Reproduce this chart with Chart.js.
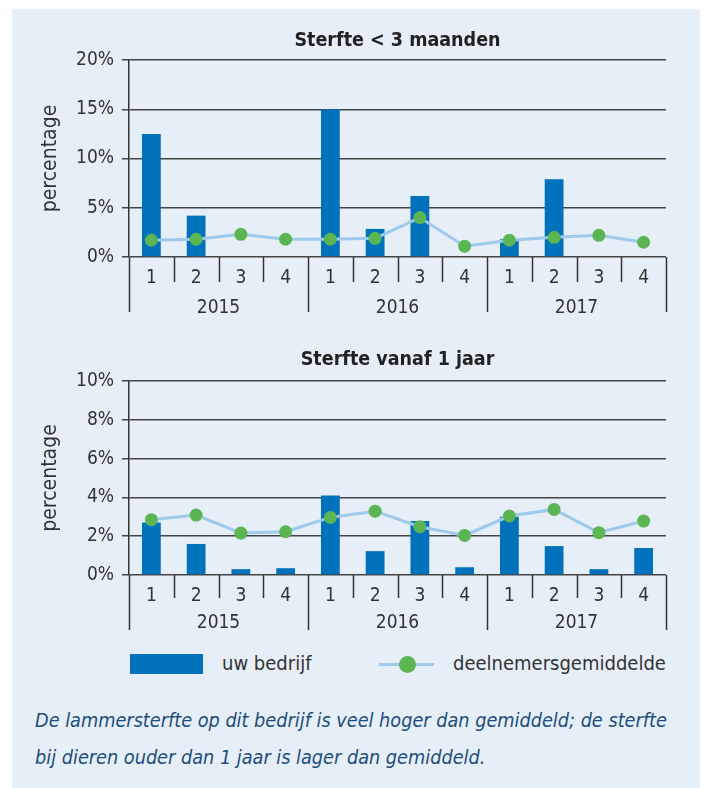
<!DOCTYPE html>
<html>
<head>
<meta charset="utf-8">
<script src="https://cdn.jsdelivr.net/npm/chart.js@4/dist/chart.umd.min.js"></script>
<style>
    body {
        margin: 0;
        width: 710px;
        height: 788px;
        position: relative;
        overflow: hidden;
        background: #fff;
        font-family: "DejaVu Sans Condensed", "Liberation Sans Narrow", sans-serif;
    }
    #panel {
        position: absolute;
        left: 12px;
        top: 9px;
        width: 688px;
        height: 779px;
        background: #e6eef8;
    }
    canvas { position: absolute; left: 0; }
    #chart1 { top: 0; }
    #chart2 { top: 330px; }
    .legend-rect {
        position: absolute;
        left: 130px; top: 654px;
        width: 73px; height: 20px;
        background: #0072bb;
    }
    .legend-line {
        position: absolute;
        left: 379px; top: 663px;
        width: 55px; height: 3px;
        background: #9cc9ec;
    }
    .legend-dot {
        position: absolute;
        left: 399px; top: 656px;
        width: 17px; height: 17px;
        border-radius: 50%;
        background: #5ab552;
    }
    .legend-text {
        position: absolute;
        top: 651px;
        font-size: 20px;
        color: #333;
    }
    #caption {
        position: absolute;
        left: 35px; top: 702px;
        font-size: 19.7px;
        font-style: italic;
        line-height: 37px;
        color: #1c4d7c;
    }
</style>
</head>
<body>
<div id="panel"></div>
<canvas id="chart1" width="710" height="330"></canvas>
<canvas id="chart2" width="710" height="310"></canvas>
<div class="legend-rect"></div>
<div class="legend-text" style="left:222px">uw bedrijf</div>
<div class="legend-line"></div>
<div class="legend-dot"></div>
<div class="legend-text" style="left:453px">deelnemersgemiddelde</div>
<div id="caption">De lammersterfte op dit bedrijf is veel hoger dan gemiddeld; de sterfte<br>bij dieren ouder dan 1 jaar is lager dan gemiddeld.</div>

<script>
// Categories: quarters within years
const years = ['2015', '2016', '2017'];
const quarters = ['1', '2', '3', '4'];

// Sterfte < 3 maanden (percent)
const lambFarm = [12.5, 4.2, 0, 0, 15.0, 2.85, 6.2, 0, 1.8, 7.9, 0, 0];
const lambAvg = [1.7, 1.8, 2.3, 1.8, 1.8, 1.9, 4.0, 1.1, 1.7, 2.0, 2.2, 1.5];

// Sterfte vanaf 1 jaar (percent)
const adultFarm = [2.7, 1.6, 0.3, 0.35, 4.1, 1.23, 2.78, 0.4, 3.0, 1.49, 0.3, 1.39];
const adultAvg = [2.85, 3.09, 2.16, 2.23, 2.97, 3.29, 2.49, 2.04, 3.04, 3.38, 2.18, 2.78];

const FONT = '"DejaVu Sans Condensed", "Liberation Sans Narrow", sans-serif';
const labels = years.flatMap(() => quarters);

// Draws the chart title, the year row and the separator lines under the x axis
const groupAxisPlugin = {
    id: 'groupAxis',
    afterDraw(chart, args, opts) {
        const { ctx, chartArea, scales: { x } } = chart;
        const half = (x.getPixelForValue(1) - x.getPixelForValue(0)) / 2;
        ctx.save();
        ctx.strokeStyle = '#333';
        ctx.lineWidth = 1.5;
        for (let i = 0; i <= labels.length; i++) {
            const px = i < labels.length ? x.getPixelForValue(i) - half : x.getPixelForValue(i - 1) + half;
            const len = i % quarters.length === 0 ? opts.yearTick : opts.quarterTick;
            ctx.beginPath();
            ctx.moveTo(Math.round(px) + 0.5, chartArea.bottom);
            ctx.lineTo(Math.round(px) + 0.5, chartArea.bottom + len);
            ctx.stroke();
        }
        ctx.fillStyle = '#333';
        ctx.font = '19px ' + FONT;
        ctx.textAlign = 'center';
        ctx.textBaseline = 'middle';
        years.forEach((year, j) => {
            const first = x.getPixelForValue(j * quarters.length);
            const last = x.getPixelForValue(j * quarters.length + quarters.length - 1);
            ctx.fillText(year, (first + last) / 2, chartArea.bottom + opts.yearOffset);
        });
        ctx.fillStyle = '#222';
        ctx.font = 'bold 19.5px ' + FONT;
        ctx.fillText(opts.title, (chartArea.left + chartArea.right) / 2, opts.titleY);
        ctx.restore();
    }
};

function makeChart(id, farm, avg, yMax, yStep, pad, xHeight, opts) {
    return new Chart(document.getElementById(id), {
        type: 'bar',
        data: {
            labels: labels,
            datasets: [
                {
                    type: 'line',
                    label: 'deelnemersgemiddelde',
                    data: avg,
                    borderColor: '#9cc9ec',
                    borderWidth: 3,
                    pointBackgroundColor: '#5ab552',
                    pointBorderWidth: 0,
                    pointRadius: 6.5,
                    order: 0
                },
                {
                    label: 'uw bedrijf',
                    data: farm,
                    backgroundColor: '#0072bb',
                    barPercentage: 0.42,
                    categoryPercentage: 1,
                    order: 1
                }
            ]
        },
        options: {
            responsive: false,
            animation: false,
            layout: { padding: pad },
            plugins: {
                legend: { display: false },
                tooltip: { enabled: false },
                groupAxis: opts
            },
            scales: {
                x: {
                    grid: { display: false },
                    border: { display: false },
                    ticks: { color: '#333', font: { size: 19, family: FONT }, padding: 2, maxRotation: 0 },
                    afterFit: scale => { scale.height = xHeight; }
                },
                y: {
                    min: 0,
                    max: yMax,
                    ticks: {
                        stepSize: yStep,
                        color: '#333',
                        font: { size: 19, family: FONT },
                        padding: 8,
                        callback: v => v + '%'
                    },
                    grid: { color: '#444', lineWidth: 1.5, tickLength: 7 },
                    border: { color: '#333', width: 1.5 },
                    title: {
                        display: true,
                        text: 'percentage',
                        color: '#333',
                        font: { size: 21, family: FONT },
                        padding: 0
                    },
                    afterFit: scale => { scale.width = 129 - pad.left; }
                }
            }
        },
        plugins: [groupAxisPlugin]
    });
}

makeChart('chart1', lambFarm, lambAvg, 20, 5,
    { left: 38, right: 44, top: 60, bottom: 0 }, 73,
    { title: 'Sterfte < 3 maanden', titleY: 41, quarterTick: 25, yearTick: 55, yearOffset: 51 });

makeChart('chart2', adultFarm, adultAvg, 10, 2,
    { left: 38, right: 44, top: 51, bottom: 0 }, 65,
    { title: 'Sterfte vanaf 1 jaar', titleY: 30, quarterTick: 23, yearTick: 55, yearOffset: 48 });
</script>
</body>
</html>
